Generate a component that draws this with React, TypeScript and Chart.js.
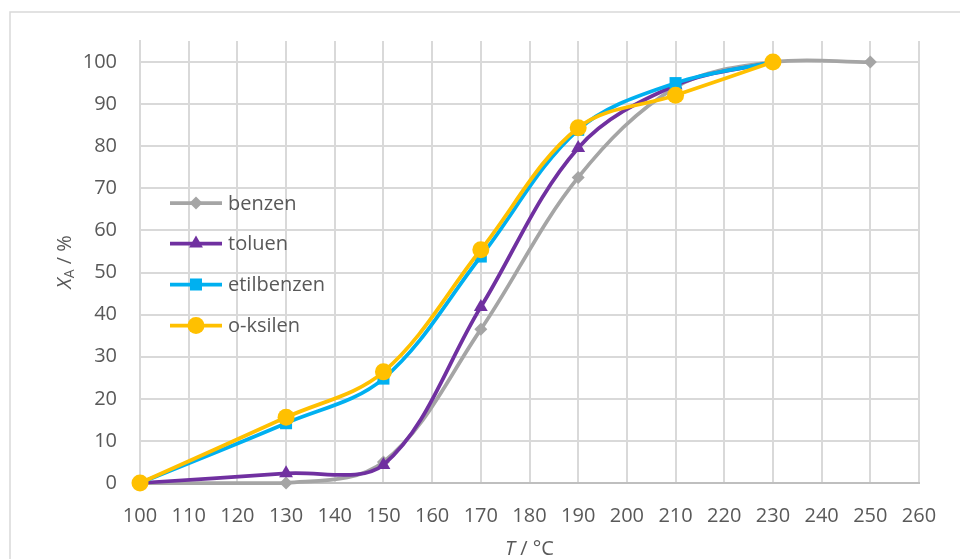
import React, { useEffect, useRef } from "react";
import Chart from "chart.js/auto";
import { drawPoint } from "chart.js/helpers";

// Reaction temperature, °C
const temperatures = [100, 130, 150, 170, 190, 210, 230, 250];

// Conversion X_A (%) per aromatic
const benzen = [0, 0, 5, 36.5, 72.6, 94, 100, 100];
const toluen = [0, 2.3, 4.3, 41.8, 79.6, 94.5, 100];
const etilbenzen = [0, 14.2, 24.8, 53.8, 83.9, 95, 100];
const oKsilen = [0, 15.6, 26.4, 55.4, 84.4, 92.1, 100];

// Labelled y ticks
const yTicks = [0, 10, 20, 30, 40, 50, 60, 70, 80, 90, 100];

const seriesNames = ["benzen", "toluen", "etilbenzen", "o-ksilen"];
const seriesColors = ["#a5a5a5", "#7030a0", "#00b0f0", "#ffc000"];
const seriesMarkers = ["rectRot", "triangle", "rect", "circle"] as const;
const markerRadii = [6.5, 8, 8.5, 8.5];

const FONT = "'Open Sans', 'Noto Sans', sans-serif";
const FONT_SIZE = 20;
const TEXT_COLOR = "#595959";

const toPoints = (values: number[]) =>
  values.map((y, i) => ({ x: temperatures[i], y }));

// Frame, axis titles and in-plot legend
const decorations = {
  id: "decorations",
  beforeDraw(chart: any) {
    const ctx = chart.ctx;
    ctx.save();
    ctx.strokeStyle = "#d9d9d9";
    ctx.lineWidth = 1.5;
    ctx.strokeRect(10, 12, chart.width, chart.height);
    ctx.restore();
  },
  afterDraw(chart: any) {
    const ctx = chart.ctx;
    const area = chart.chartArea;
    ctx.save();
    ctx.fillStyle = TEXT_COLOR;
    ctx.textBaseline = "middle";

    // y title: X_A / %
    const big = `${FONT_SIZE}px ${FONT}`;
    const bigItalic = `italic ${FONT_SIZE}px ${FONT}`;
    const small = `14px ${FONT}`;
    ctx.font = bigItalic;
    const wX = ctx.measureText("X").width;
    ctx.font = small;
    const wA = ctx.measureText("A").width;
    ctx.font = big;
    const wRest = ctx.measureText(" / %").width;
    const total = wX + wA + wRest;
    ctx.save();
    ctx.translate(65, (area.top + area.bottom) / 2);
    ctx.rotate(-Math.PI / 2);
    let cx = -total / 2;
    ctx.textAlign = "left";
    ctx.font = bigItalic;
    ctx.fillText("X", cx, 0);
    cx += wX;
    ctx.font = small;
    ctx.fillText("A", cx, 5);
    cx += wA;
    ctx.font = big;
    ctx.fillText(" / %", cx, 0);
    ctx.restore();

    // x title: T / °C
    ctx.font = bigItalic;
    const wT = ctx.measureText("T").width;
    ctx.font = big;
    const wUnit = ctx.measureText(" / °C").width;
    let tx = (area.left + area.right) / 2 - (wT + wUnit) / 2;
    ctx.textAlign = "left";
    ctx.font = bigItalic;
    ctx.fillText("T", tx, 549);
    tx += wT;
    ctx.font = big;
    ctx.fillText(" / °C", tx, 549);

    // legend
    const rowY = [203, 243.5, 284.5, 325.5];
    seriesNames.forEach((name, i) => {
      const y = rowY[i];
      ctx.strokeStyle = seriesColors[i];
      ctx.lineWidth = 3.75;
      ctx.beginPath();
      ctx.moveTo(170, y);
      ctx.lineTo(222, y);
      ctx.stroke();
      ctx.fillStyle = seriesColors[i];
      ctx.strokeStyle = seriesColors[i];
      ctx.lineWidth = 0;
      drawPoint(
        ctx,
        {
          pointStyle: seriesMarkers[i],
          radius: markerRadii[i],
          rotation: 0,
          borderWidth: 0,
        } as any,
        196,
        y
      );
      ctx.fillStyle = TEXT_COLOR;
      ctx.font = big;
      ctx.textAlign = "left";
      ctx.fillText(name, 228, y + 1);
    });
    ctx.restore();
  },
};

export default function App() {
  const canvasRef = useRef<HTMLCanvasElement | null>(null);

  useEffect(() => {
    if (!canvasRef.current) return;
    const seriesValues = [benzen, toluen, etilbenzen, oKsilen];
    const chart = new Chart(canvasRef.current, {
      type: "line",
      data: {
        datasets: seriesValues.map((values, i) => ({
          label: seriesNames[i],
          data: toPoints(values),
          borderColor: seriesColors[i],
          backgroundColor: seriesColors[i],
          borderWidth: 3.75,
          pointStyle: seriesMarkers[i],
          pointRadius: markerRadii[i],
          pointBorderWidth: 0,
          pointBackgroundColor: seriesColors[i],
          pointBorderColor: seriesColors[i],
          tension: 0.35,
          clip: false as any,
          order: 4 - i,
        })),
      },
      options: {
        animation: false,
        responsive: false,
        layout: { padding: { top: 41, right: 41, left: 0, bottom: 0 } },
        plugins: {
          legend: { display: false },
          tooltip: { enabled: false },
        },
        scales: {
          x: {
            type: "linear",
            min: 100,
            max: 260,
            ticks: {
              stepSize: 10,
              color: TEXT_COLOR,
              font: { family: FONT, size: FONT_SIZE },
              padding: 21,
            },
            grid: { color: "#d9d9d9", lineWidth: 2, drawTicks: false },
            border: { color: "#bfbfbf", width: 2 },
            afterFit(scale: any) {
              scale.height = 76;
            },
          },
          y: {
            type: "linear",
            min: 0,
            max: 105,
            ticks: {
              color: TEXT_COLOR,
              font: { family: FONT, size: FONT_SIZE },
              padding: 23,
            },
            afterBuildTicks(scale: any) {
              scale.ticks = yTicks.map((value) => ({ value }));
            },
            grid: { color: "#d9d9d9", lineWidth: 2, drawTicks: false },
            border: { color: "#d9d9d9", width: 2 },
            afterFit(scale: any) {
              scale.width = 140;
            },
          },
        },
      },
      plugins: [decorations],
    });
    return () => chart.destroy();
  }, []);

  return (
    <div style={{ position: "absolute", left: 0, top: 0, width: 960, height: 559, background: "#fff" }}>
      <canvas ref={canvasRef} width={960} height={559} style={{ display: "block" }} />
    </div>
  );
}
